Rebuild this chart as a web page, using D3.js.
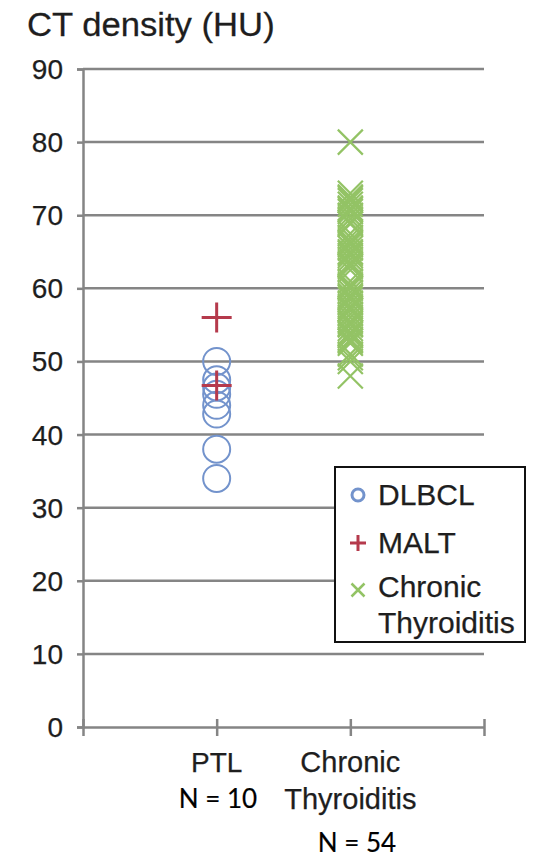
<!DOCTYPE html>
<html>
<head>
<meta charset="utf-8">
<script src="https://cdn.jsdelivr.net/npm/d3@7"></script>
<style>
  html, body { margin: 0; padding: 0; background: #fff; }
  svg { display: block; }
</style>
</head>
<body>
<script>
// ---- Data ----
const categories = ["PTL", "Chronic Thyroiditis"];
const yTicks = [0, 10, 20, 30, 40, 50, 60, 70, 80, 90];
const dlbclValues = [50, 47.5, 46.5, 45.5, 44, 42.8, 38, 34];
const maltValues = [56, 46.7];
const thyroiditisValues = [
  80,
  73, 72.5, 72.3, 72, 71.5, 71, 70.8, 70.5, 70, 69.5, 69, 68.8,
  67.5, 67, 66.5, 66.2, 66, 65.5, 65, 64.8, 64.5, 64, 63.5, 63.2, 63, 62.5,
  61, 60.5, 60.2, 60, 59.5, 59, 58.8, 58.5, 58, 57.5, 57.2, 57, 56.5, 56,
  55.5, 55.2, 55, 54.5, 54, 53.8, 53.5, 53, 52.8, 52.5,
  51, 50.5, 50, 48
];
const nLabels = ["N = 10", "N = 54"];
const legendItems = [
  { key: "circle", lines: ["DLBCL"] },
  { key: "plus", lines: ["MALT"] },
  { key: "cross", lines: ["Chronic", "Thyroiditis"] }
];

// ---- Styles ----
const W = 535, H = 858;
const gridColor = "#858585";
const textColor = "#1e1e1e";
const blue = "#7393cc";
const red = "#b53a4c";
const green = "#93c365";
const fontHelv = "'Liberation Sans', Arial, Helvetica, sans-serif";
const fontN = "Lato, 'Open Sans', sans-serif";

const svg = d3.select("body").append("svg").attr("width", W).attr("height", H);

const x = d3.scaleLinear().domain([0, 3]).range([83, 484]);
const y = d3.scaleLinear().domain([0, 90]).range([727, 69]);

function label(text, tx, ty, anchor, size, sx, font, color, thick) {
  const g = svg.append("g").attr("transform", `translate(${tx},${ty}) scale(${sx},1)`);
  const c = color || textColor;
  g.append("text")
    .attr("text-anchor", anchor)
    .attr("font-family", font || fontHelv)
    .attr("font-size", size)
    .attr("fill", c)
    .attr("stroke", c)
    .attr("stroke-width", thick === undefined ? 0.25 : thick)
    .text(text);
  return g;
}

// gridlines
svg.append("g").selectAll("line").data(yTicks.filter(d => d > 0)).join("line")
  .attr("x1", x(0)).attr("x2", x(3))
  .attr("y1", d => y(d)).attr("y2", d => y(d))
  .attr("stroke", gridColor).attr("stroke-width", 2.5);

// y axis
const yAxis = d3.axisLeft(y).tickValues(yTicks).tickSize(6).tickFormat("");
const gy = svg.append("g").attr("transform", `translate(${x(0)},0)`).call(yAxis);
gy.select(".domain").attr("stroke", gridColor).attr("stroke-width", 2.5);
gy.selectAll(".tick line").attr("stroke", gridColor).attr("stroke-width", 2.5);

// x axis
const xAxis = d3.axisBottom(x).tickValues([0, 1, 2, 3]).tickSize(9).tickSizeOuter(0).tickFormat("");
const gx = svg.append("g").attr("transform", `translate(0,${y(0)})`).call(xAxis);
gx.select(".domain").attr("stroke", gridColor).attr("stroke-width", 2.5);
gx.selectAll(".tick line").attr("stroke", gridColor).attr("stroke-width", 2.5).attr("y1", -8);

// y tick labels
yTicks.forEach(t => label(String(t), 63, y(t) + 10, "end", 28, 1.0));

// title
label("CT density (HU)", 27, 36, "start", 33, 1.05);

// x category labels
label("PTL", x(1), 772, "middle", 28, 1.0);
label("Chronic", x(2), 772, "middle", 29, 1.0);
label("Thyroiditis", x(2), 809, "middle", 29, 1.0);
label(nLabels[0], 218, 808, "middle", 26, 1.0, fontN, "#000", 0.2);
label(nLabels[1], 357, 852, "middle", 26, 1.0, fontN, "#000", 0.2);

// markers
const plot = svg.append("g");
plot.selectAll("circle.dl").data(dlbclValues).join("circle")
  .attr("cx", x(1)).attr("cy", d => y(d)).attr("r", 13.5)
  .attr("fill", "none").attr("stroke", blue).attr("stroke-width", 2);

function plusPath(cx, cy, s) {
  return `M${cx - s},${cy}H${cx + s}M${cx},${cy - s}V${cy + s}`;
}
function crossPath(cx, cy, s) {
  return `M${cx - s},${cy - s}L${cx + s},${cy + s}M${cx - s},${cy + s}L${cx + s},${cy - s}`;
}

plot.selectAll("path.th").data(thyroiditisValues).join("path")
  .attr("d", d => crossPath(x(2), y(d), 12.5))
  .attr("fill", "none").attr("stroke", green).attr("stroke-width", 2.2);

plot.selectAll("path.ml").data(maltValues).join("path")
  .attr("d", d => plusPath(x(1), y(d), 15))
  .attr("fill", "none").attr("stroke", red).attr("stroke-width", 3);

// legend
const lg = svg.append("g");
lg.append("rect").attr("x", 335).attr("y", 467).attr("width", 190).attr("height", 175)
  .attr("fill", "#fff").attr("stroke", "#111").attr("stroke-width", 2);

const rowY = [505, 553, 597];
legendItems.forEach((it, i) => {
  const cy = rowY[i] - 10;
  if (it.key === "circle") {
    lg.append("circle").attr("cx", 358).attr("cy", cy).attr("r", 6)
      .attr("fill", "none").attr("stroke", blue).attr("stroke-width", 3);
  } else if (it.key === "plus") {
    lg.append("path").attr("d", plusPath(358, cy, 8)).attr("stroke", red).attr("stroke-width", 3);
  } else {
    lg.append("path").attr("d", crossPath(358, cy + 3, 6.5)).attr("stroke", green).attr("stroke-width", 2.5);
  }
  it.lines.forEach((ln, j) => label(ln, 378, rowY[i] + j * 36, "start", 30, 1.0));
});
</script>
</body>
</html>
